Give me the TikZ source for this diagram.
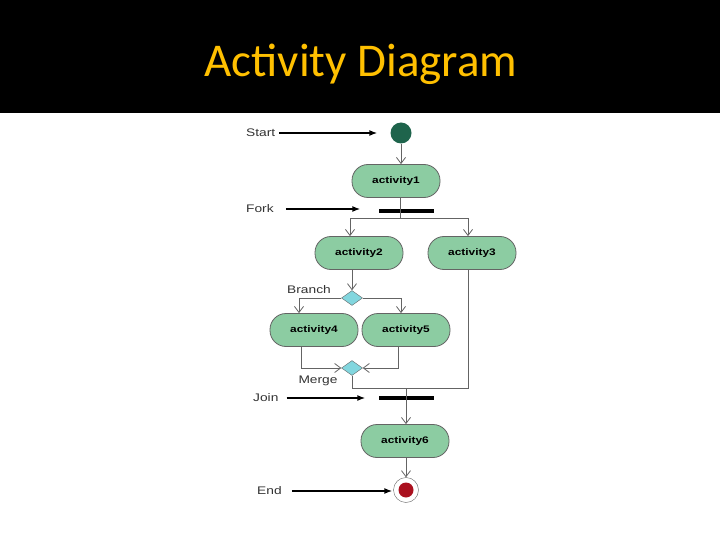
\documentclass[tikz,border=0pt]{standalone}
\usepackage{fontspec}
\setmainfont{Liberation Sans}
\newfontfamily\titlefont{Carlito}
\newfontfamily\diagfont[FakeStretch=1.25]{Liberation Sans}
\usetikzlibrary{arrows.meta,shapes.geometric}
\definecolor{actgreen}{RGB}{140,204,162}
\definecolor{startgreen}{RGB}{30,100,76}
\definecolor{decblue}{RGB}{130,214,222}
\definecolor{endred}{RGB}{170,16,30}
\definecolor{titleyellow}{RGB}{255,192,0}
\definecolor{flowgray}{RGB}{100,100,100}
\begin{document}
\begin{tikzpicture}[
  x=1pt, y=-1pt,
  every node/.style={font=\diagfont\fontsize{8}{9}\selectfont},
  act/.style={rectangle, rounded corners=16pt, draw=flowgray, thick, fill=actgreen, minimum width=88pt, minimum height=33pt, font=\diagfont\fontsize{9.5}{11}\selectfont\bfseries},
  bar/.style={rectangle, fill=black, inner sep=0pt, minimum width=55pt, minimum height=4pt},
  dec/.style={diamond, draw=flowgray, fill=decblue, inner sep=0pt, minimum width=21pt, minimum height=15pt},
  lab/.style={font=\diagfont\fontsize{11}{12}\selectfont, text=black!80, inner sep=0pt},
  flow/.style={draw=flowgray, thick, -{Straight Barb[length=6pt,width=9pt]}},
  line/.style={draw=flowgray, thick},
  pointer/.style={draw=black, line width=1.4pt, -{Latex[length=8pt,width=6pt]}}
]
\useasboundingbox (0,0) rectangle (720,540);
\fill[black] (0,0) rectangle (720,113);
\node[font=\titlefont\fontsize{47}{49}\selectfont, text=titleyellow] (title) at (361,64) {Activity Diagram};

% nodes
\node[circle, fill=startgreen, minimum size=21pt, inner sep=0pt] (start) at (401,133) {};
\node[act] (a1) at (396,181) {activity1};
\node[bar] (fork) at (406,211.5) {};
\node[act] (a2) at (359,253) {activity2};
\node[act] (a3) at (472,253) {activity3};
\node[dec] (br) at (352,298) {};
\node[act] (a4) at (314,330) {activity4};
\node[act] (a5) at (406,330) {activity5};
\node[dec] (mg) at (352,368) {};
\node[bar] (join) at (406,398) {};
\node[act] (a6) at (405,441) {activity6};
\node[circle, draw=flowgray, fill=white, minimum size=25pt, inner sep=0pt] (end) at (406,490) {};
\node[circle, fill=endred, minimum size=15pt, inner sep=0pt] (endin) at (end) {};

\coordinate (fk) at (400,218);
\coordinate (jn) at (406,388);

% flows
\draw[flow] (start.south) -- (start.south |- a1.north);
\draw[line] (a1.south -| fk) -- (fk);
\draw[flow] (fk) -| ([xshift=-9pt]a2.north);
\draw[flow] (fk) -| ([xshift=-4pt]a3.north);
\draw[flow] (a2.south -| br) -- (br.north);
\draw[flow] (br.west) -| ([xshift=-15pt]a4.north);
\draw[flow] (br.east) -| ([xshift=-5pt]a5.north);
\draw[flow] ([xshift=-13pt]a4.south) |- (mg.west);
\draw[flow] ([xshift=-8pt]a5.south) |- (mg.east);
\draw[line] (mg.south) |- (jn);
\draw[line] ([xshift=-4pt]a3.south) |- (jn);
\draw[flow] (jn) -- (jn |- a6.north);
\draw[flow] (a6.south -| end) -- (end.north);

% labels
\node[lab, anchor=west] (lstart) at (246,133) {Start};
\node[lab, anchor=west] (lfork) at (246,209) {Fork};
\node[lab, anchor=south] (lbr) at (309,294) {Branch};
\node[lab, anchor=north] (lmg) at (318,376) {Merge};
\node[lab, anchor=west] (ljoin) at (253,398) {Join};
\node[lab, anchor=west] (lend) at (257,491) {End};

\draw[pointer] ([xshift=4pt]lstart.east) -- ([xshift=-13pt]start.west |- lstart.east);
\draw[pointer] ([xshift=12pt]lfork.east) -- ([xshift=-18pt]fork.west |- lfork.east);
\draw[pointer] ([xshift=8pt]ljoin.east) -- ([xshift=-13pt]join.west |- ljoin.east);
\draw[pointer] ([xshift=10pt]lend.east) -- ([xshift=-1pt]end.west |- lend.east);
\end{tikzpicture}
\end{document}
